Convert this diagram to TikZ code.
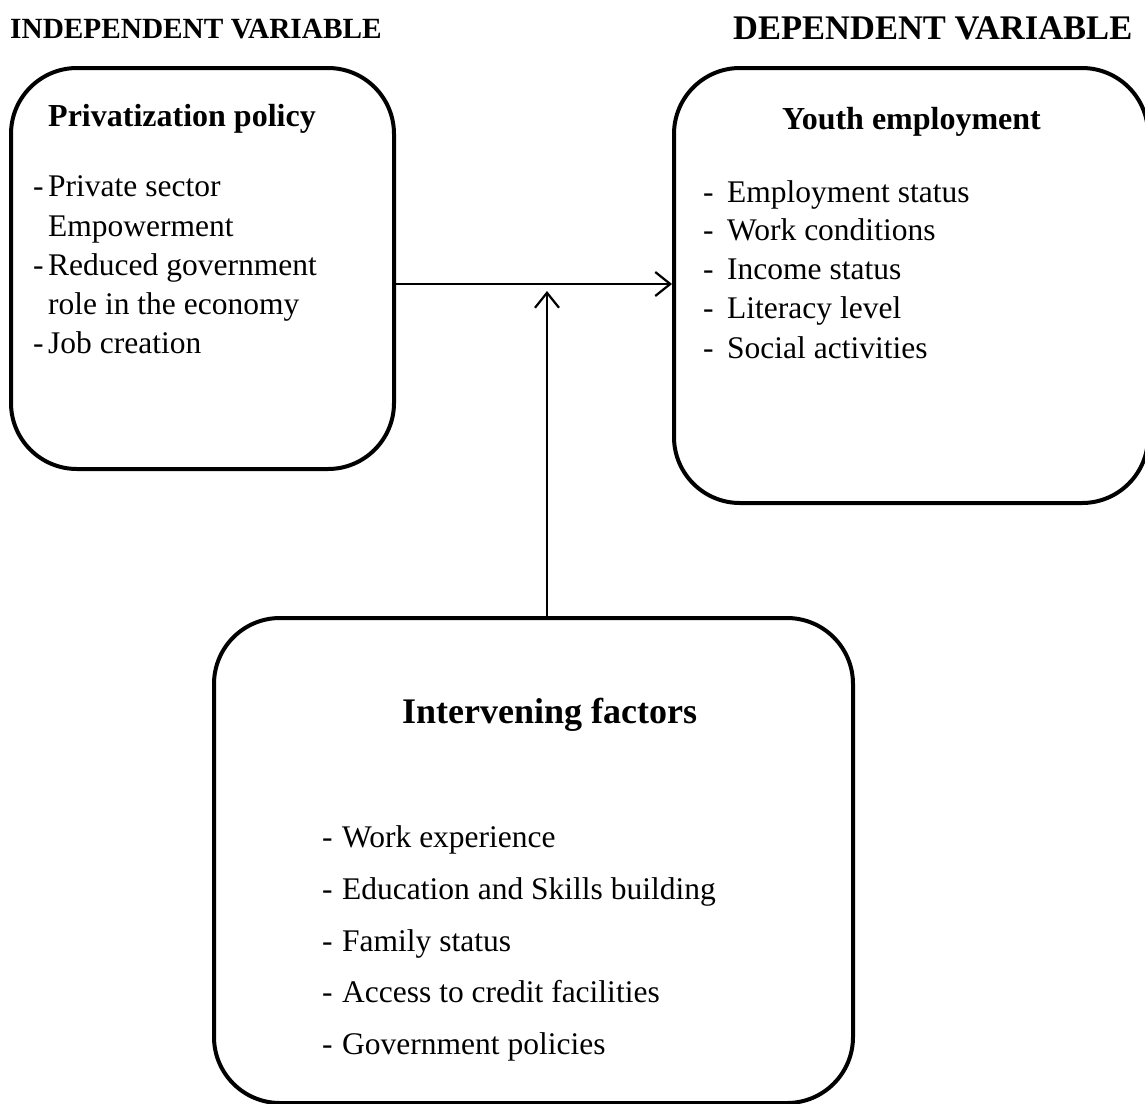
\documentclass[tikz,border=0pt]{standalone}
\usepackage{fontspec}
\setmainfont{Liberation Serif}
\usetikzlibrary{arrows.meta}
\tikzset{
  box/.style={draw=black, line width=4pt, rounded corners=66pt},
  body/.style={inner sep=0pt, anchor=base west, font=\fontsize{31.5}{39}\selectfont},
  head/.style={inner sep=0pt, anchor=base west, font=\fontsize{32}{39}\selectfont\bfseries},
  conn/.style={line width=2.2pt, -{Straight Barb[length=15pt,width=24pt,line width=2.2pt]}}
}
\begin{document}
\begin{tikzpicture}[x=1pt,y=-1pt]
\useasboundingbox (0,0) rectangle (1145,1103);
% boxes
\draw[box] (11,68) rectangle (394,469);
\draw[box] (674,68) rectangle (1148,503);
\draw[box] (214,618) rectangle (853,1103);
% named anchors
\coordinate (lr) at (396,284);
\coordinate (rl) at (672,284);
\coordinate (bt) at (547,616);
\coordinate (mid) at (547,291);
\draw[conn] (lr) -- (rl);
\draw[conn] (bt) -- (mid);
% top labels
\node[head, font=\fontsize{29.3}{39}\selectfont\bfseries] (iv) at (10,38) {INDEPENDENT VARIABLE};
\node[head, font=\fontsize{34.5}{39}\selectfont\bfseries] (dv) at (733,39) {DEPENDENT VARIABLE};
% left box
\node[head] (pp) at (48,126) {Privatization policy};
\node[body] (l1d) at (33,196) {-};
\node[body] (l1) at (48,196) {Private sector};
\node[body] (l2) at (48,236) {Empowerment};
\node[body] (l3d) at (33,275) {-};
\node[body] (l3) at (48,275) {Reduced government};
\node[body] (l4) at (48,314) {role in the economy};
\node[body] (l5d) at (33,353) {-};
\node[body] (l5) at (48,353) {Job creation};
% right box
\node[head] (ye) at (782,129) {Youth employment};
\node[body] (r1d) at (703,202) {-};
\node[body] (r1) at (727,202) {Employment status};
\node[body] (r2d) at (703,240) {-};
\node[body] (r2) at (727,240) {Work conditions};
\node[body] (r3d) at (703,279) {-};
\node[body] (r3) at (727,279) {Income status};
\node[body] (r4d) at (703,318) {-};
\node[body] (r4) at (727,318) {Literacy level};
\node[body] (r5d) at (703,358) {-};
\node[body] (r5) at (727,358) {Social activities};
% bottom box
\node[head, font=\fontsize{36}{39}\selectfont\bfseries] (if) at (402,723) {Intervening factors};
\node[body] (b1d) at (322,847) {-};
\node[body] (b1) at (342,847) {Work experience};
\node[body] (b2d) at (322,899) {-};
\node[body] (b2) at (342,899) {Education and Skills building};
\node[body] (b3d) at (322,951) {-};
\node[body] (b3) at (342,951) {Family status};
\node[body] (b4d) at (322,1002) {-};
\node[body] (b4) at (342,1002) {Access to credit facilities};
\node[body] (b5d) at (322,1054) {-};
\node[body] (b5) at (342,1054) {Government policies};
\end{tikzpicture}
\end{document}
